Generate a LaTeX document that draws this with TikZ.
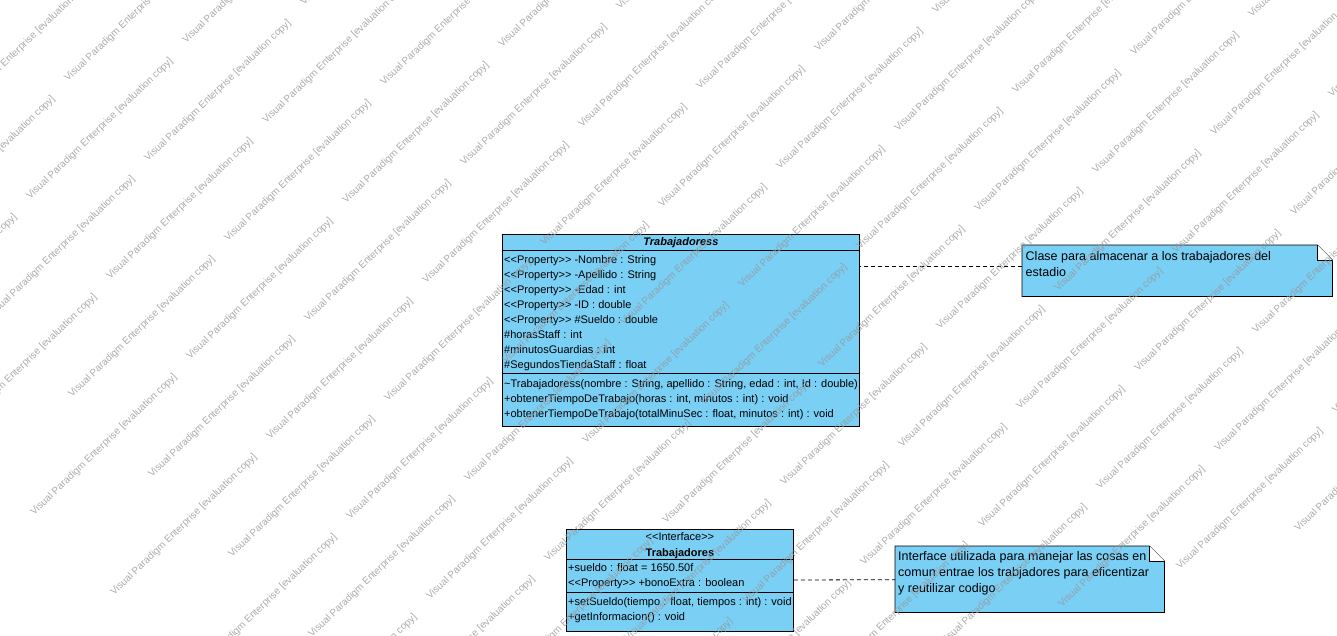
\documentclass[tikz,border=0pt]{standalone}
\usepackage{fontspec}
\setmainfont{Liberation Sans}
\usetikzlibrary{positioning}
\definecolor{classblue}{RGB}{122,207,245}
\definecolor{markgray}{RGB}{150,150,150}
\newcommand{\ltlt}{<\kern0pt<}
\newcommand{\gtgt}{>\kern0pt>}
\tikzstyle{Cbox}=[shape=rectangle,draw=black,fill=classblue,line width=0.8pt,inner sep=0pt,anchor=north west]
\tikzstyle{Cline}=[draw=black,line width=0.8pt]
\tikzstyle{Crow}=[anchor=west,inner sep=0pt,font=\fontsize{11}{13}\selectfont,text height=8pt,text depth=2.5pt]
\tikzstyle{Chead}=[Crow,anchor=center]
\tikzstyle{Nbox}=[shape=rectangle,inner sep=0pt,anchor=north west]
\tikzstyle{Nedge}=[draw=black,fill=classblue,line width=0.8pt,line join=miter]
\tikzstyle{Nfold}=[draw=black,fill=white,line width=0.8pt]
\tikzstyle{Ntext}=[inner sep=0pt,anchor=north west,align=left,font=\fontsize{12.5}{15.8}\selectfont]
\tikzstyle{notelink}=[dash pattern=on 4pt off 3pt,line width=0.8pt]
\tikzstyle{wmark}=[anchor=base west,rotate=44,inner sep=0pt,text=markgray,text opacity=0.8,font=\fontsize{10}{12}\selectfont]

\begin{document}
\begin{tikzpicture}[x=1pt,y=-1pt]
\useasboundingbox (0,0) rectangle (1337,635);
\clip (0,0) rectangle (1337,635);

% clase Trabajadoress
\node[Cbox,minimum width=357pt,minimum height=192pt] (TRAB) at (502,234) {};
\node[Chead,font=\fontsize{11}{13}\selectfont\bfseries\itshape,below=3.5pt of TRAB.north] (TRABname) {Trabajadoress};
\draw[Cline] ([yshift=-16pt]TRAB.north west) -- ([yshift=-16pt]TRAB.north east);
\draw[Cline] ([yshift=-139pt]TRAB.north west) -- ([yshift=-139pt]TRAB.north east);
\foreach \txt [count=\k] in {{\ltlt Property\gtgt{} -Nombre : String},{\ltlt Property\gtgt{} -Apellido : String},{\ltlt Property\gtgt{} -Edad : int},{\ltlt Property\gtgt{} -ID : double},{\ltlt Property\gtgt{} \#Sueldo : double},{\#horasStaff : int},{\#minutosGuardias : int},{\#SegundosTiendaStaff : float}}
  \node[Crow] (TRABa\k) at (504,{245.5+15*\k}) {\txt};
\foreach \txt [count=\k] in {{\textasciitilde Trabajadoress(nombre : String, apellido : String, edad : int, Id : double)},{+obtenerTiempoDeTrabajo(horas : int, minutos : int) : void},{+obtenerTiempoDeTrabajo(totalMinuSec : float, minutos : int) : void}}
  \node[Crow] (TRABm\k) at (504,{369.5+15*\k}) {\txt};

% interface Trabajadores
\node[Cbox,minimum width=227pt,minimum height=102pt] (TRAB2) at (566,529) {};
\node[Chead,below=3.5pt of TRAB2.north] (TRAB2st) {\ltlt Interface\gtgt};
\node[Chead,font=\fontsize{11}{13}\selectfont\bfseries,below=4.5pt of TRAB2st] (TRAB2name) {Trabajadores};
\draw[Cline] ([yshift=-30pt]TRAB2.north west) -- ([yshift=-30pt]TRAB2.north east);
\draw[Cline] ([yshift=-63pt]TRAB2.north west) -- ([yshift=-63pt]TRAB2.north east);
\foreach \txt [count=\k] in {{+sueldo : float = 1650.50f},{\ltlt Property\gtgt{} +bonoExtra : boolean}}
  \node[Crow] (TRAB2a\k) at (568,{554+15*\k}) {\txt};
\foreach \txt [count=\k] in {{+setSueldo(tiempo : float, tiempos : int) : void},{+getInformacion() : void}}
  \node[Crow] (TRAB2m\k) at (568,{588+15*\k}) {\txt};

% notas
\node[Nbox,minimum width=310pt,minimum height=51pt] (NOTA1) at (1022,245) {};
\filldraw[Nedge] (NOTA1.north west) -- ([xshift=-15pt]NOTA1.north east) -- ([yshift=-15pt]NOTA1.north east) -- (NOTA1.south east) -- (NOTA1.south west) -- cycle;
\filldraw[Nfold] ([xshift=-15pt]NOTA1.north east) -- ([xshift=-15pt,yshift=-15pt]NOTA1.north east) -- ([yshift=-15pt]NOTA1.north east);
\node[Ntext,below right=6pt and 3.5pt of NOTA1.north west] (NOTA1txt) {Clase para almacenar a los trabajadores del\\estadio};

\node[Nbox,minimum width=269pt,minimum height=66pt] (NOTA2) at (895,546) {};
\filldraw[Nedge] (NOTA2.north west) -- ([xshift=-15pt]NOTA2.north east) -- ([yshift=-15pt]NOTA2.north east) -- (NOTA2.south east) -- (NOTA2.south west) -- cycle;
\filldraw[Nfold] ([xshift=-15pt]NOTA2.north east) -- ([xshift=-15pt,yshift=-15pt]NOTA2.north east) -- ([yshift=-15pt]NOTA2.north east);
\node[Ntext,below right=5.5pt and 3pt of NOTA2.north west] (NOTA2txt) {Interface utilizada para manejar las cosas en\\comun entrae los trabjadores para eficentizar\\y reutilizar codigo};

% enlaces
\coordinate (L1) at ([yshift=4.5pt]NOTA1.west);
\draw[notelink] (L1) -- (L1 -| TRAB.east);
\path (TRAB2) edge[notelink] (NOTA2);

% marca de agua
\foreach \i in {-8,...,8}{
  \foreach \j in {-3,...,14}{
    \pgfmathsetmacro\wx{68+80*\i+118*\j}
    \pgfmathsetmacro\wy{82+80*\i-38*\j}
    \pgfmathtruncatemacro\wok{and(and(\wx>-160,\wx<1340),and(\wy>-5,\wy<780))}
    \ifnum\wok=1 \node[wmark] (wm\i x\j) at (\wx,\wy) {Visual Paradigm Enterprise [evaluation copy]};\fi
  }
}
\end{tikzpicture}
\end{document}
